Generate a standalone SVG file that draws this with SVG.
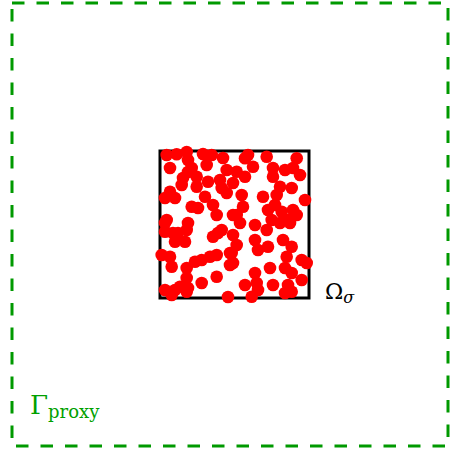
<svg xmlns="http://www.w3.org/2000/svg" width="454" height="455" viewBox="0 0 454 455">
<style>
.frame{fill:none;stroke:#009900;stroke-width:3;stroke-dasharray:12.5 12}
.box{fill:none;stroke:#000;stroke-width:3}
.d{fill:#ff0000}
.lbl{font-family:"DejaVu Serif","Liberation Serif",serif}
</style>
<rect width="454" height="455" fill="#fff"/>
<g id="proxy">
<rect class="frame" x="12" y="3" width="436" height="443"/>
<text class="lbl" x="30" y="414" fill="#00a000" font-size="26">Γ<tspan font-size="18" dy="4">proxy</tspan></text>
</g>
<g id="omega">
<rect class="box" x="160" y="151" width="149" height="147"/>
<text class="lbl" x="325" y="299" fill="#000" font-size="22">Ω<tspan font-size="16" font-style="italic" dy="4">σ</tspan></text>
</g>
<g id="points">
<g class="d">
<circle cx="166.7" cy="155" r="6.3"/><circle cx="176.7" cy="154.3" r="6.3"/><circle cx="186.7" cy="152" r="6.3"/><circle cx="203" cy="154" r="6.3"/><circle cx="211.7" cy="155" r="6.3"/><circle cx="223" cy="158" r="6.3"/><circle cx="188" cy="160" r="6.3"/><circle cx="170" cy="168" r="6.3"/><circle cx="191.7" cy="168" r="6.3"/><circle cx="206.7" cy="165" r="6.3"/><circle cx="226.7" cy="170" r="6.3"/><circle cx="183" cy="178" r="6.3"/><circle cx="196.7" cy="176.7" r="6.3"/><circle cx="188" cy="172" r="6.3"/><circle cx="181.7" cy="185" r="6.3"/><circle cx="196.7" cy="186.7" r="6.3"/><circle cx="208" cy="181.7" r="6.3"/><circle cx="220" cy="180" r="6.3"/><circle cx="221.7" cy="188" r="6.3"/><circle cx="226.7" cy="193" r="6.3"/><circle cx="170" cy="191.7" r="6.3"/><circle cx="165" cy="198" r="6.3"/><circle cx="175" cy="198" r="6.3"/><circle cx="205" cy="196.7" r="6.3"/><circle cx="191.7" cy="206.7" r="6.3"/><circle cx="198" cy="208" r="6.3"/><circle cx="213" cy="205" r="6.3"/><circle cx="216.7" cy="215" r="6.3"/><circle cx="166.7" cy="220" r="6.3"/><circle cx="188" cy="223" r="6.3"/><circle cx="233" cy="215" r="6.3"/>
<circle cx="245" cy="158.3" r="6.3"/><circle cx="248" cy="155" r="6.3"/><circle cx="266.7" cy="156.7" r="6.3"/><circle cx="296.7" cy="158.3" r="6.3"/><circle cx="236.7" cy="171.7" r="6.3"/><circle cx="245" cy="176.7" r="6.3"/><circle cx="253" cy="166.7" r="6.3"/><circle cx="273" cy="168" r="6.3"/><circle cx="285" cy="170" r="6.3"/><circle cx="293" cy="168" r="6.3"/><circle cx="300" cy="175" r="6.3"/><circle cx="273" cy="176.7" r="6.3"/><circle cx="233" cy="183" r="6.3"/><circle cx="241.7" cy="195" r="6.3"/><circle cx="263" cy="196.7" r="6.3"/><circle cx="280" cy="186.7" r="6.3"/><circle cx="291.7" cy="188" r="6.3"/><circle cx="276.7" cy="195" r="6.3"/><circle cx="305" cy="200" r="6.3"/><circle cx="275" cy="205" r="6.3"/><circle cx="243" cy="206.7" r="6.3"/><circle cx="268" cy="210" r="6.3"/><circle cx="281.7" cy="211.7" r="6.3"/><circle cx="293" cy="210" r="6.3"/><circle cx="236.7" cy="215" r="6.3"/><circle cx="296.7" cy="215" r="6.3"/><circle cx="271.7" cy="220" r="6.3"/><circle cx="288" cy="220" r="6.3"/>
<circle cx="165" cy="223" r="6.3"/><circle cx="165" cy="231.7" r="6.3"/><circle cx="173" cy="233" r="6.3"/><circle cx="178" cy="233" r="6.3"/><circle cx="186.7" cy="230" r="6.3"/><circle cx="175" cy="241.7" r="6.3"/><circle cx="185" cy="241.7" r="6.3"/><circle cx="218" cy="233" r="6.3"/><circle cx="221.7" cy="230" r="6.3"/><circle cx="213" cy="236.7" r="6.3"/><circle cx="161.7" cy="255" r="6.3"/><circle cx="170" cy="256.7" r="6.3"/><circle cx="171.7" cy="266.7" r="6.3"/><circle cx="186.7" cy="268" r="6.3"/><circle cx="195" cy="261.7" r="6.3"/><circle cx="201.7" cy="260" r="6.3"/><circle cx="210" cy="256.7" r="6.3"/><circle cx="216.7" cy="255" r="6.3"/><circle cx="230" cy="253" r="6.3"/><circle cx="230" cy="265" r="6.3"/><circle cx="186.7" cy="278" r="6.3"/><circle cx="201.7" cy="283" r="6.3"/><circle cx="216.7" cy="276.7" r="6.3"/><circle cx="165" cy="290" r="6.3"/><circle cx="175" cy="290" r="6.3"/><circle cx="180" cy="286.7" r="6.3"/><circle cx="188" cy="288" r="6.3"/><circle cx="171.7" cy="295" r="6.3"/><circle cx="186.7" cy="291.7" r="6.3"/><circle cx="228" cy="297" r="6.3"/>
<circle cx="240" cy="223" r="6.3"/><circle cx="255" cy="225" r="6.3"/><circle cx="266.7" cy="230" r="6.3"/><circle cx="280" cy="223" r="6.3"/><circle cx="290" cy="223" r="6.3"/><circle cx="233" cy="235" r="6.3"/><circle cx="236.7" cy="245" r="6.3"/><circle cx="255" cy="240" r="6.3"/><circle cx="283" cy="240" r="6.3"/><circle cx="291.7" cy="246.7" r="6.3"/><circle cx="258" cy="250" r="6.3"/><circle cx="268" cy="246.7" r="6.3"/><circle cx="231.7" cy="253" r="6.3"/><circle cx="286.7" cy="256.7" r="6.3"/><circle cx="301.7" cy="260" r="6.3"/><circle cx="306.7" cy="263" r="6.3"/><circle cx="233" cy="263" r="6.3"/><circle cx="270" cy="268" r="6.3"/><circle cx="285" cy="268" r="6.3"/><circle cx="291.7" cy="273" r="6.3"/><circle cx="255" cy="273" r="6.3"/><circle cx="301.7" cy="280" r="6.3"/><circle cx="288" cy="285" r="6.3"/><circle cx="245" cy="285" r="6.3"/><circle cx="273" cy="285" r="6.3"/><circle cx="256.7" cy="283" r="6.3"/><circle cx="258" cy="290" r="6.3"/><circle cx="251.7" cy="296.7" r="6.3"/><circle cx="285" cy="293" r="6.3"/><circle cx="291.7" cy="291.7" r="6.3"/>
</g>
</g>
</svg>
